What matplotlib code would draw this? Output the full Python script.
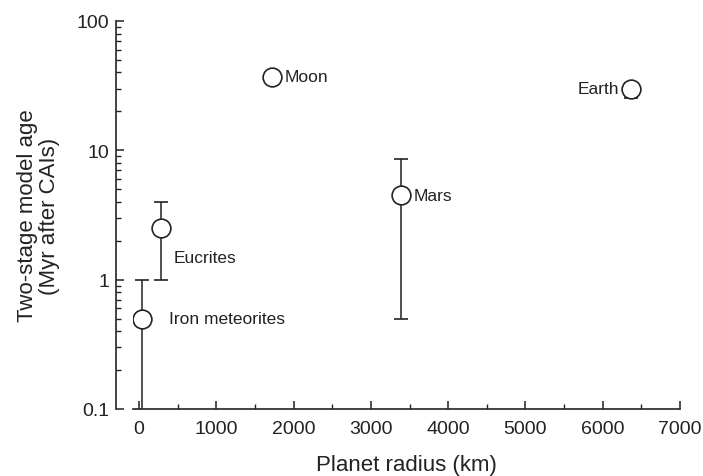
import numpy as np
import matplotlib
matplotlib.use("Agg")
import matplotlib.pyplot as plt
from matplotlib.ticker import FixedLocator, FuncFormatter, LogLocator, NullFormatter

plt.rcParams['font.family'] = ['Liberation Sans', 'DejaVu Sans']

# data
names = ['Iron meteorites', 'Eucrites', 'Moon', 'Mars', 'Earth']
radius_km = [40, 285, 1720, 3390, 6370]
age_myr = [0.5, 2.5, 37, 4.5, 30]
age_low = [0.05, 1.0, 37, 0.5, 25.3]
age_high = [1.0, 4.0, 37, 8.6, 33]

# label placement (offset in points, alignment)
label_style = {
    'Iron meteorites': ((19, 0), 'left'),
    'Eucrites': ((9, -21), 'left'),
    'Moon': ((9, 0), 'left'),
    'Mars': ((9, 0), 'left'),
    'Earth': ((-9, 0), 'right'),
}

fig = plt.figure(figsize=(7.03, 4.77), dpi=100)
ax = fig.add_axes([133 / 703, 1 - 410 / 477, (680 - 133) / 703, (410 - 22) / 477])

y = np.array(age_myr)
yerr = np.vstack([y - np.array(age_low), np.array(age_high) - y])
ax.errorbar(radius_km, y, yerr=yerr, fmt='o', color='#222222', ms=13.5,
            mfc='white', mec='#222222', mew=1.2, elinewidth=1.1,
            capsize=5, capthick=1.1, zorder=3)

for n, xv, yv in zip(names, radius_km, age_myr):
    off, ha = label_style[n]
    ax.annotate(n, (xv, yv), xytext=off, textcoords='offset points',
                ha=ha, va='center', fontsize=12.5, color='#222222')

ax.set_yscale('log')
ax.set_ylim(0.1, 100)
ax.set_xlim(-78, 7000)

ax.xaxis.set_major_locator(FixedLocator(np.arange(0, 7001, 1000)))
ax.xaxis.set_minor_locator(FixedLocator(np.arange(500, 7000, 1000)))
ax.yaxis.set_major_locator(LogLocator(base=10))
ax.yaxis.set_minor_locator(LogLocator(base=10, subs=np.arange(2, 10)))
ax.yaxis.set_minor_formatter(NullFormatter())
ax.yaxis.set_major_formatter(FuncFormatter(lambda v, p: f'{v:g}'))

for s in ['top', 'right']:
    ax.spines[s].set_visible(False)
ax.spines['left'].set_position(('outward', 12))
for s in ['left', 'bottom']:
    ax.spines[s].set_linewidth(1.2)
    ax.spines[s].set_color('#222222')

ax.tick_params(which='major', direction='in', length=6, width=1.1,
               labelsize=14, colors='#222222', pad=5)
ax.tick_params(which='minor', direction='in', length=3.5, width=1.0,
               colors='#222222')
ax.tick_params(axis='x', which='major', pad=8)

ax.set_xlabel('Planet radius (km)', fontsize=16, color='#222222', labelpad=12)
ax.set_ylabel('Two-stage model age\n(Myr after CAIs)', fontsize=16,
              color='#222222', labelpad=12, linespacing=1.05)

fig.savefig('out.png', dpi=100)
